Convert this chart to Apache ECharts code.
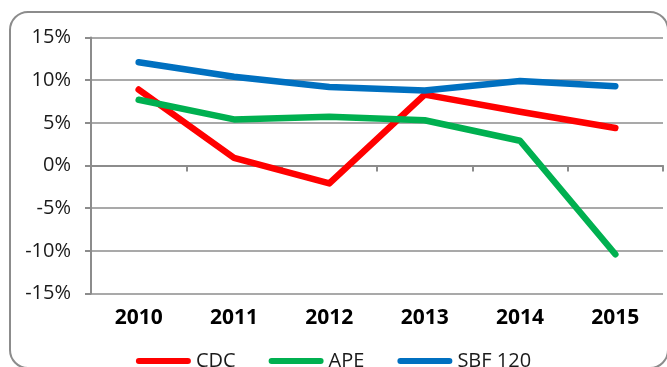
<!DOCTYPE html>
<html>
<head>
<meta charset="utf-8">
<script src="https://cdn.jsdelivr.net/npm/echarts@6/dist/echarts.min.js"></script>
<style>
  html, body { margin: 0; padding: 0; background: #fff; }
  #chart { width: 667px; height: 367px; }
</style>
</head>
<body>
<div id="chart"></div>
<script>
// Annual performance (%) per year
const years = ['2010', '2011', '2012', '2013', '2014', '2015'];
const cdc = [8.9, 0.9, -2.1, 8.3, 6.3, 4.4];
const ape = [7.7, 5.4, 5.7, 5.3, 2.9, -10.4];
const sbf120 = [12.1, 10.4, 9.2, 8.8, 9.9, 9.3];
const seriesNames = ['CDC', 'APE', 'SBF 120'];
const seriesColors = ['#FF0000', '#00B050', '#0070C0'];

const FONT = '"Open Sans", "Noto Sans", sans-serif';
const GRAY = '#8c8c8c';

// capsule shaped legend swatch (same aspect as itemWidth x itemHeight)
const capsule = 'path://M3,0 H52 A3,3 0 0 1 52,6 H3 A3,3 0 0 1 3,0 Z';

const chart = echarts.init(document.getElementById('chart'), null, { renderer: 'canvas' });

function lineSeries(name, data, color) {
  return {
    name: name,
    type: 'line',
    data: data,
    xAxisIndex: 0,
    yAxisIndex: 0,
    symbol: 'none',
    smooth: false,
    lineStyle: { color: color, width: 6.5, cap: 'round', join: 'round' },
    itemStyle: { color: color },
    emphasis: { disabled: true },
    animation: false
  };
}

chart.setOption({
  animation: false,
  backgroundColor: '#ffffff',
  graphic: [{
    type: 'rect',
    shape: { x: 10, y: 12, width: 658, height: 356, r: 18 },
    style: { fill: 'none', stroke: GRAY, lineWidth: 2 },
    silent: true,
    z: 0
  }],
  grid: { left: 91, right: 4, top: 37.5, bottom: 73.5, containLabel: false },
  legend: {
    top: 346,
    left: 'center',
    itemWidth: 55,
    itemHeight: 6,
    itemGap: 33,
    icon: capsule,
    textStyle: { fontFamily: FONT, fontSize: 20, color: '#1a1a1a' },
    data: seriesNames.map((n, i) => ({ name: n, itemStyle: { color: seriesColors[i] } }))
  },
  xAxis: [{
    type: 'category',
    data: years,
    boundaryGap: true,
    axisLine: { show: true, onZero: true, lineStyle: { color: GRAY, width: 2 } },
    axisTick: { show: true, length: 6, inside: false, lineStyle: { color: GRAY, width: 2 } },
    axisLabel: { show: false },
    splitLine: { show: false }
  }, {
    type: 'category',
    data: years,
    position: 'bottom',
    boundaryGap: true,
    axisLine: { show: false, onZero: false },
    axisTick: { show: false },
    axisLabel: {
      show: true, margin: 14,
      fontFamily: FONT, fontSize: 21, fontWeight: 'bold', color: '#000'
    },
    splitLine: { show: false }
  }],
  yAxis: {
    type: 'value',
    min: -15, max: 15, interval: 5,
    axisLine: { show: true, lineStyle: { color: GRAY, width: 2 } },
    axisTick: { show: true, length: 6, lineStyle: { color: GRAY, width: 2 } },
    axisLabel: {
      margin: 20, formatter: '{value}%',
      fontFamily: FONT, fontSize: 20, color: '#1a1a1a'
    },
    splitLine: { show: true, lineStyle: { color: GRAY, width: 1.6 } }
  },
  series: [
    lineSeries(seriesNames[0], cdc, seriesColors[0]),
    lineSeries(seriesNames[1], ape, seriesColors[1]),
    lineSeries(seriesNames[2], sbf120, seriesColors[2])
  ]
});
</script>
</body>
</html>
